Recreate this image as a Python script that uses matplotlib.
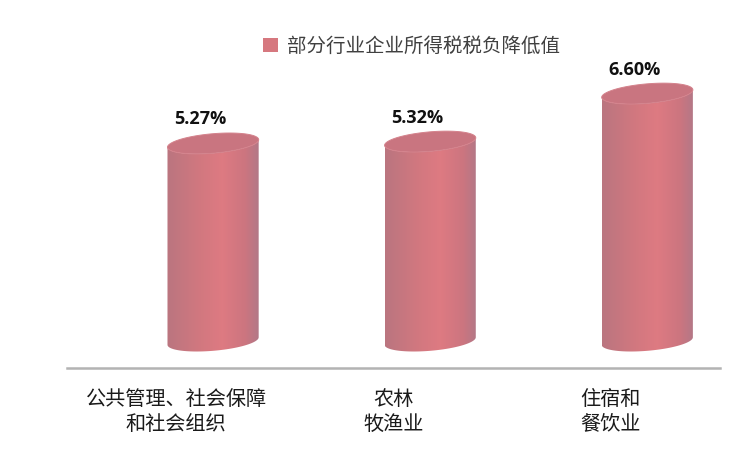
import numpy as np
import matplotlib.pyplot as plt
from matplotlib.patches import Polygon, Patch
from matplotlib.colors import LinearSegmentedColormap

plt.rcParams['font.family'] = ['Noto Sans CJK SC', 'DejaVu Sans']

# data
categories = ['公共管理、社会保障\n和社会组织', '农林\n牧渔业', '住宿和\n餐饮业']
values = [5.27, 5.32, 6.60]
value_labels = ['5.27%', '5.32%', '6.60%']
series_name = '部分行业企业所得税税负降低值'

# cylinder look
a = 0.21      # half width (x units)
b = 0.26      # half height of the ellipses (y units)
k = 0.10      # tilt of the ellipses
body_cmap = LinearSegmentedColormap.from_list('cyl', [
    (0.00, (0.73, 0.46, 0.50)),
    (0.35, (0.82, 0.47, 0.50)),
    (0.60, (0.87, 0.48, 0.51)),
    (0.85, (0.80, 0.46, 0.50)),
    (1.00, (0.70, 0.47, 0.53)),
])
top_color = (0.79, 0.46, 0.50)
legend_color = '#d6787f'


def ell(xc, yc, t):
    return np.column_stack([xc + a*np.cos(t), yc + b*np.sin(t) + k*np.cos(t)])


fig = plt.figure(figsize=(7.5, 4.74), dpi=100)
ax = fig.add_axes([0.0893, 0.2243, 0.871, 0.67])

grad = np.linspace(0, 1, 256).reshape(1, -1)
for i, v in enumerate(values):
    lower = ell(i, 0, np.linspace(np.pi, 2*np.pi, 60))
    upper = ell(i, v, np.linspace(2*np.pi, np.pi, 60))
    body = Polygon(np.vstack([lower, upper]), closed=True, facecolor='none',
                   edgecolor='none')
    ax.add_patch(body)
    im = ax.imshow(grad, cmap=body_cmap, aspect='auto', interpolation='bilinear',
                   extent=[i - a, i + a, -b - k - 0.1, v + b + k], zorder=2)
    im.set_clip_path(body)
    top = Polygon(ell(i, v, np.linspace(0, 2*np.pi, 120)), closed=True,
                  facecolor=top_color, edgecolor=(0.83, 0.51, 0.55),
                  linewidth=0.7, zorder=3)
    ax.add_patch(top)
    ax.annotate(value_labels[i], xy=(i, v), xytext=(-13, 24),
                textcoords='offset pixels', ha='center', va='center',
                fontsize=13, fontweight='bold', family=['Open Sans', 'DejaVu Sans'],
                color='#111111')
    ax.annotate(categories[i], xy=(i, 0), xycoords=('data', 'axes fraction'),
                xytext=(-37, -44), textcoords='offset pixels', ha='center',
                va='center', fontsize=14.5, color='#1a1a1a', linespacing=1.25)

ax.set_xlim(-0.673, 2.336)
ax.set_ylim(-0.71, 7.76)
ax.set_xticks([])
ax.set_yticks([])
for s in ['top', 'left', 'right']:
    ax.spines[s].set_visible(False)
ax.spines['bottom'].set_color('#b3b3b3')
ax.spines['bottom'].set_linewidth(1.8)

fig.legend(handles=[Patch(facecolor=legend_color, edgecolor='none', label=series_name)],
           loc='center', bbox_to_anchor=(0.549, 0.903), frameon=False,
           fontsize=14, handlelength=0.75, handleheight=0.75, handletextpad=0.5,
           labelcolor='#404040')

fig.savefig('out.png', dpi=100)
